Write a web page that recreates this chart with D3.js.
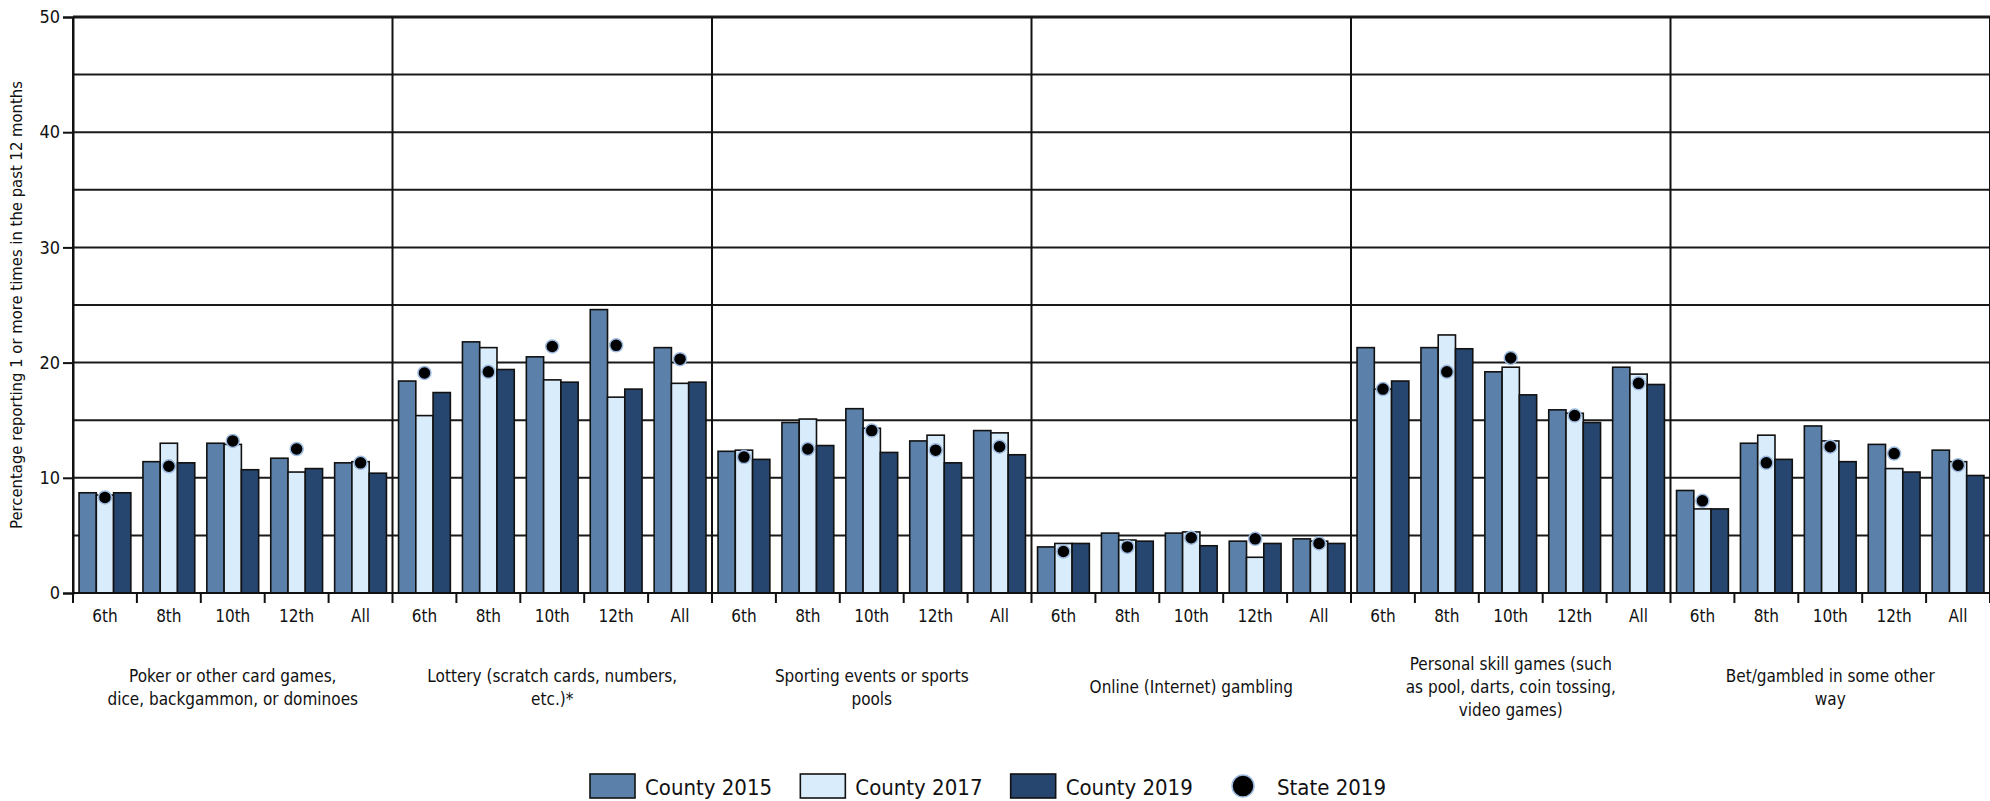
<!DOCTYPE html>
<html>
<head>
<meta charset="utf-8">
<script src="https://cdn.jsdelivr.net/npm/d3@7"></script>
<style>
  body { margin: 0; background: #fff; }
  svg text { font-family: "Liberation Sans Narrow", "DejaVu Sans Condensed", "Arial Narrow", sans-serif; fill: #111; }
</style>
</head>
<body>
<div id="chart"></div>
<script>
// categories
const groups = [
  "Poker or other card games,\ndice, backgammon, or dominoes",
  "Lottery (scratch cards, numbers,\netc.)*",
  "Sporting events or sports\npools",
  "Online (Internet) gambling",
  "Personal skill games (such\nas pool, darts, coin tossing,\nvideo games)",
  "Bet/gambled in some other\nway"
];
const grades = ["6th", "8th", "10th", "12th", "All"];
const series = ["County 2015", "County 2017", "County 2019"];
const dotSeries = "State 2019";
const yTicks = [0, 10, 20, 30, 40, 50];

// values, group by group, 6th/8th/10th/12th/All
const county2015 = [
  8.7, 11.4, 13.0, 11.7, 11.3,
  18.4, 21.8, 20.5, 24.6, 21.3,
  12.3, 14.8, 16.0, 13.2, 14.1,
  4.0, 5.2, 5.2, 4.5, 4.7,
  21.3, 21.3, 19.2, 15.9, 19.6,
  8.9, 13.0, 14.5, 12.9, 12.4
];
const county2017 = [
  8.5, 13.0, 12.9, 10.5, 11.4,
  15.4, 21.3, 18.5, 17.0, 18.2,
  12.4, 15.1, 14.3, 13.7, 13.9,
  4.3, 4.6, 5.3, 3.1, 4.5,
  17.7, 22.4, 19.6, 15.6, 19.0,
  7.3, 13.7, 13.2, 10.8, 11.4
];
const county2019 = [
  8.7, 11.3, 10.7, 10.8, 10.4,
  17.4, 19.4, 18.3, 17.7, 18.3,
  11.6, 12.8, 12.2, 11.3, 12.0,
  4.3, 4.5, 4.1, 4.3, 4.3,
  18.4, 21.2, 17.2, 14.8, 18.1,
  7.3, 11.6, 11.4, 10.5, 10.2
];
const state2019 = [
  8.3, 11.0, 13.2, 12.5, 11.3,
  19.1, 19.2, 21.4, 21.5, 20.3,
  11.8, 12.5, 14.1, 12.4, 12.7,
  3.6, 4.0, 4.8, 4.7, 4.3,
  17.7, 19.2, 20.4, 15.4, 18.2,
  8.0, 11.3, 12.7, 12.1, 11.1
];

const colors = ["#5b80a9", "#d9ecfc", "#27466f"];

const width = 1990, height = 801;
const margin = {top: 17, right: 0, bottom: 208, left: 73};
const innerW = width - margin.left - margin.right;
const innerH = height - margin.top - margin.bottom;

// flat rows, one per group x grade
const rows = [];
groups.forEach((g, gi) => {
  grades.forEach((gr, ri) => {
    const i = gi * grades.length + ri;
    rows.push({
      group: g, grade: gr,
      values: [county2015[i], county2017[i], county2019[i]],
      state: state2019[i]
    });
  });
});

const svg = d3.select("#chart")
  .append("svg")
    .attr("width", width)
    .attr("height", height);

const g = svg.append("g")
  .attr("transform", `translate(${margin.left},${margin.top})`);

const x0 = d3.scaleBand().domain(groups).range([0, innerW]);
const x1 = d3.scaleBand().domain(grades).range([0, x0.bandwidth()]);
const x2 = d3.scaleBand().domain(series).range([0, x1.bandwidth()])
  .paddingInner(0).paddingOuter(0.35);
const y = d3.scaleLinear().domain([0, 50]).range([innerH, 0]);
const color = d3.scaleOrdinal().domain(series).range(colors);

// gridlines every 5
g.append("g")
  .selectAll("line")
  .data(d3.range(5, 51, 5))
  .join("line")
    .attr("x1", 0)
    .attr("x2", innerW)
    .attr("y1", d => y(d))
    .attr("y2", d => y(d))
    .attr("stroke", "#1a1a1a")
    .attr("stroke-width", d => d === 50 ? 3 : 2);

// bars
const cells = g.append("g")
  .selectAll("g")
  .data(rows)
  .join("g")
    .attr("transform", d => `translate(${x0(d.group) + x1(d.grade)},0)`);

cells.selectAll("rect")
  .data(d => d.values.map((v, k) => ({key: series[k], value: v})))
  .join("rect")
    .attr("x", d => x2(d.key))
    .attr("y", d => y(d.value))
    .attr("width", x2.bandwidth())
    .attr("height", d => y(0) - y(d.value))
    .attr("fill", d => color(d.key))
    .attr("stroke", "#111")
    .attr("stroke-width", 1.6);

// state dots, over the middle bar
cells.append("circle")
  .attr("cx", x2(series[1]) + x2.bandwidth() / 2)
  .attr("cy", d => y(d.state))
  .attr("r", 6.5)
  .attr("fill", "#000")
  .attr("stroke", "#9dbbe0")
  .attr("stroke-width", 1.5);

// group separators
g.append("g")
  .selectAll("line")
  .data(groups.map(d => x0(d)).concat([innerW]))
  .join("line")
    .attr("x1", d => d)
    .attr("x2", d => d)
    .attr("y1", 0)
    .attr("y2", innerH)
    .attr("stroke", "#111")
    .attr("stroke-width", 2);

// y axis
const yAxis = g.append("g")
  .call(d3.axisLeft(y).tickValues(yTicks).tickSize(10).tickPadding(3));
yAxis.select(".domain").attr("stroke", "#111").attr("stroke-width", 2);
yAxis.selectAll(".tick line").attr("stroke", "#111").attr("stroke-width", 2);
yAxis.selectAll(".tick text").style("font-size", "18px");

// x axis line + grade ticks
g.append("line")
  .attr("x1", 0).attr("x2", innerW)
  .attr("y1", innerH).attr("y2", innerH)
  .attr("stroke", "#111").attr("stroke-width", 2);

g.append("g")
  .selectAll("line")
  .data(rows.map(d => x0(d.group) + x1(d.grade)).concat([innerW]))
  .join("line")
    .attr("x1", d => d).attr("x2", d => d)
    .attr("y1", innerH).attr("y2", innerH + 10)
    .attr("stroke", "#111").attr("stroke-width", 2);

g.append("g")
  .selectAll("text")
  .data(rows)
  .join("text")
    .attr("x", d => x0(d.group) + x1(d.grade) + x1.bandwidth() / 2)
    .attr("y", innerH + 29)
    .attr("text-anchor", "middle")
    .style("font-size", "17px")
    .text(d => d.grade);

// group labels, centred on one baseline
const lineH = 23;
g.append("g")
  .selectAll("text")
  .data(groups)
  .join("text")
    .attr("text-anchor", "middle")
    .style("font-size", "17px")
    .each(function(d) {
      const lines = d.split("\n");
      const cx = x0(d) + x0.bandwidth() / 2;
      const mid = 693 - margin.top;
      d3.select(this).selectAll("tspan")
        .data(lines)
        .join("tspan")
          .attr("x", cx)
          .attr("y", (l, i) => mid + (i - (lines.length - 1) / 2) * lineH)
          .text(l => l);
    });

// y axis title
svg.append("text")
  .attr("transform", `translate(22,${margin.top + innerH / 2}) rotate(-90)`)
  .attr("text-anchor", "middle")
  .style("font-size", "16.5px")
  .text("Percentage reporting 1 or more times in the past 12 months");

// legend
const legendItems = series.concat([dotSeries]);
const legendX = d3.scalePoint().domain(legendItems).range([590, 1221]);
const legend = svg.append("g")
  .selectAll("g")
  .data(legendItems)
  .join("g")
    .attr("transform", d => `translate(${legendX(d)},774)`);

legend.filter(d => d !== dotSeries)
  .append("rect")
    .attr("width", 45)
    .attr("height", 24)
    .attr("fill", d => color(d))
    .attr("stroke", "#111")
    .attr("stroke-width", 1.6);

legend.filter(d => d === dotSeries)
  .append("circle")
    .attr("cx", 22)
    .attr("cy", 12)
    .attr("r", 11)
    .attr("fill", "#000")
    .attr("stroke", "#9dbbe0")
    .attr("stroke-width", 1.5);

legend.append("text")
  .attr("x", d => d === dotSeries ? 56 : 55)
  .attr("y", 21)
  .style("font-size", "22px")
  .text(d => d);
</script>
</body>
</html>
